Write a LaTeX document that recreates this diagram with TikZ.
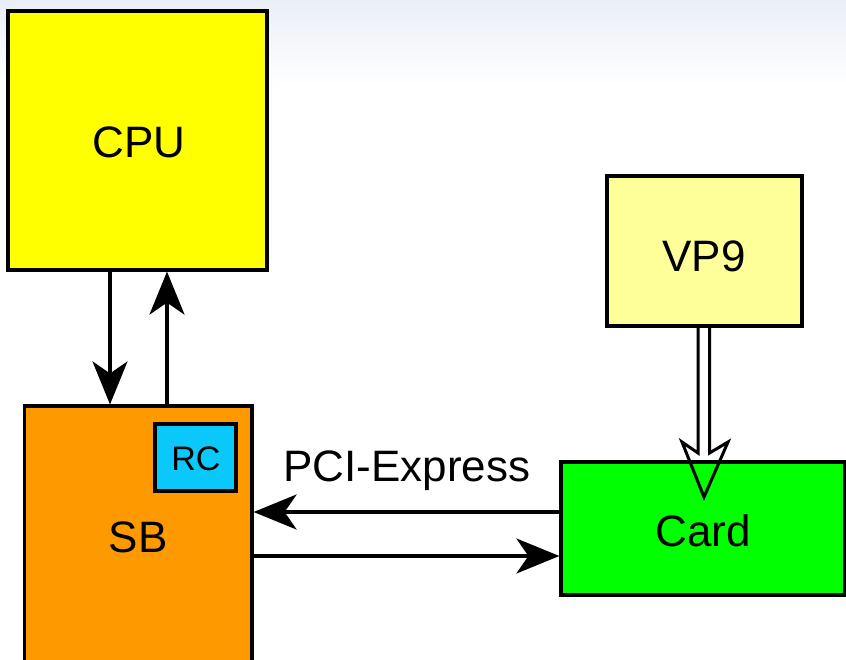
\documentclass[tikz,border=0pt]{standalone}
\usepackage{fontspec}
\setmainfont{Liberation Sans}
\usetikzlibrary{arrows.meta,calc}
\definecolor{bgtop}{RGB}{234,238,247}
\definecolor{cpuyellow}{RGB}{255,255,0}
\definecolor{sborange}{RGB}{255,153,0}
\definecolor{rccyan}{RGB}{10,200,250}
\definecolor{vplight}{RGB}{255,255,153}
\definecolor{cardgreen}{RGB}{0,255,0}
\tikzset{
  box/.style={draw=black, line width=3.2pt, rectangle, inner sep=0pt},
  big/.style={font=\fontsize{44}{50}\selectfont, inner sep=0pt},
  small/.style={font=\fontsize{34}{38}\selectfont, inner sep=0pt},
  arr/.style={line width=3.2pt, -{Stealth[length=43pt, width=35pt, inset=12pt]}},
  hol/.style={line width=3pt, line join=miter},
}
\begin{document}
\begin{tikzpicture}[x=1pt,y=-1pt]
\useasboundingbox (0,0) rectangle (846,659);
\shade[top color=bgtop, bottom color=white] (0,0) rectangle (846,85);
% boxes
\node[box, fill=cpuyellow, minimum width=259pt, minimum height=259pt] (cpu) at (137.5,140.5) {};
\node[big] (cpul) at (139,142) {CPU};
\node[box, fill=sborange, minimum width=227.5pt, minimum height=300pt] (sb) at (138.25,556) {};
\node[big] (sbl) at (138,537) {SB};
\node[box, fill=rccyan, minimum width=81pt, minimum height=67pt] (rc) at (195.5,457.5) {};
\node[small] (rcl) at (196,459) {RC};
\node[box, fill=vplight, minimum width=195pt, minimum height=150pt] (vp9) at (704.5,251) {};
\node[big] (vp9l) at (704,256) {VP9};
\node[box, fill=cardgreen, minimum width=284pt, minimum height=133pt] (card) at (703,528.5) {};
\node[big] (cardl) at (703,531) {Card};
% CPU <-> SB
\draw[arr] (110,0 |- cpu.south) -- (110,0 |- sb.north);
\draw[arr] (167,0 |- sb.north) -- (167,0 |- cpu.south);
% PCI-Express
\draw[arr] (card.west |- 0,512) -- (sb.east |- 0,512);
\draw[arr] (sb.east |- 0,556) -- (card.west |- 0,556);
\node[big] (pci) at (407,471) {PCI-Express};
% VP9 -> Card hollow double arrow
\coordinate (tip) at (704,497);
\draw[hol] (698,0 |- vp9.south) -- (698,453) -- (682,442) -- (tip) -- (728,442) -- (709.5,453) -- (709.5,0 |- vp9.south);
\end{tikzpicture}
\end{document}
